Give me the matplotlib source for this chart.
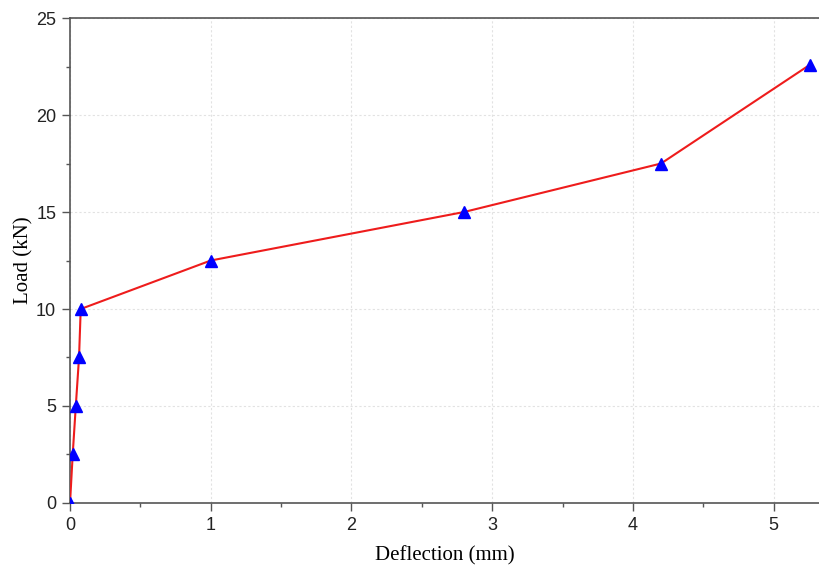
import matplotlib
matplotlib.use("Agg")
import matplotlib.pyplot as plt
from matplotlib.ticker import MultipleLocator

# deflection (mm) and load (kN)
deflection = [0.0, 0.019, 0.041, 0.064, 0.076, 1.0, 2.8, 4.2, 5.26]
load = [0.0, 2.5, 5.0, 7.5, 10.0, 12.5, 15.0, 17.5, 22.6]

fig = plt.figure(figsize=(8.2, 5.67), dpi=100)
ax = fig.add_axes([0.0854, 0.1129, 0.9146, 0.8553])

ax.plot(deflection, load, color="#ee1c1c", lw=1.5, zorder=3)
ax.plot(deflection, load, ls="none", marker="^", ms=8, color="#0000ff", zorder=4)

ax.set_xlim(0, 5.33)
ax.set_ylim(0, 25)
ax.xaxis.set_major_locator(MultipleLocator(1))
ax.xaxis.set_minor_locator(MultipleLocator(0.5))
ax.yaxis.set_major_locator(MultipleLocator(5))
ax.yaxis.set_minor_locator(MultipleLocator(2.5))

ax.grid(True, which="major", color="#e2e2e2", ls=(0, (2, 2)), lw=0.8)
ax.set_axisbelow(True)

ax.spines["right"].set_visible(False)
for s in ["top", "left", "bottom"]:
    ax.spines[s].set_color("#555555")
    ax.spines[s].set_linewidth(1.2)

ax.tick_params(which="major", direction="out", length=6, width=1, color="#555555",
               labelsize=13, pad=4, labelcolor="#222222")
ax.tick_params(which="minor", direction="out", length=3, width=1, color="#555555")
for lab in ax.get_xticklabels() + ax.get_yticklabels():
    lab.set_family("Liberation Sans")

ax.set_xlabel("Deflection (mm)", family="Liberation Serif", fontsize=15, labelpad=9)
ax.set_ylabel("Load (kN)", family="Liberation Serif", fontsize=15, labelpad=2)

fig.savefig("out.png", dpi=100)
